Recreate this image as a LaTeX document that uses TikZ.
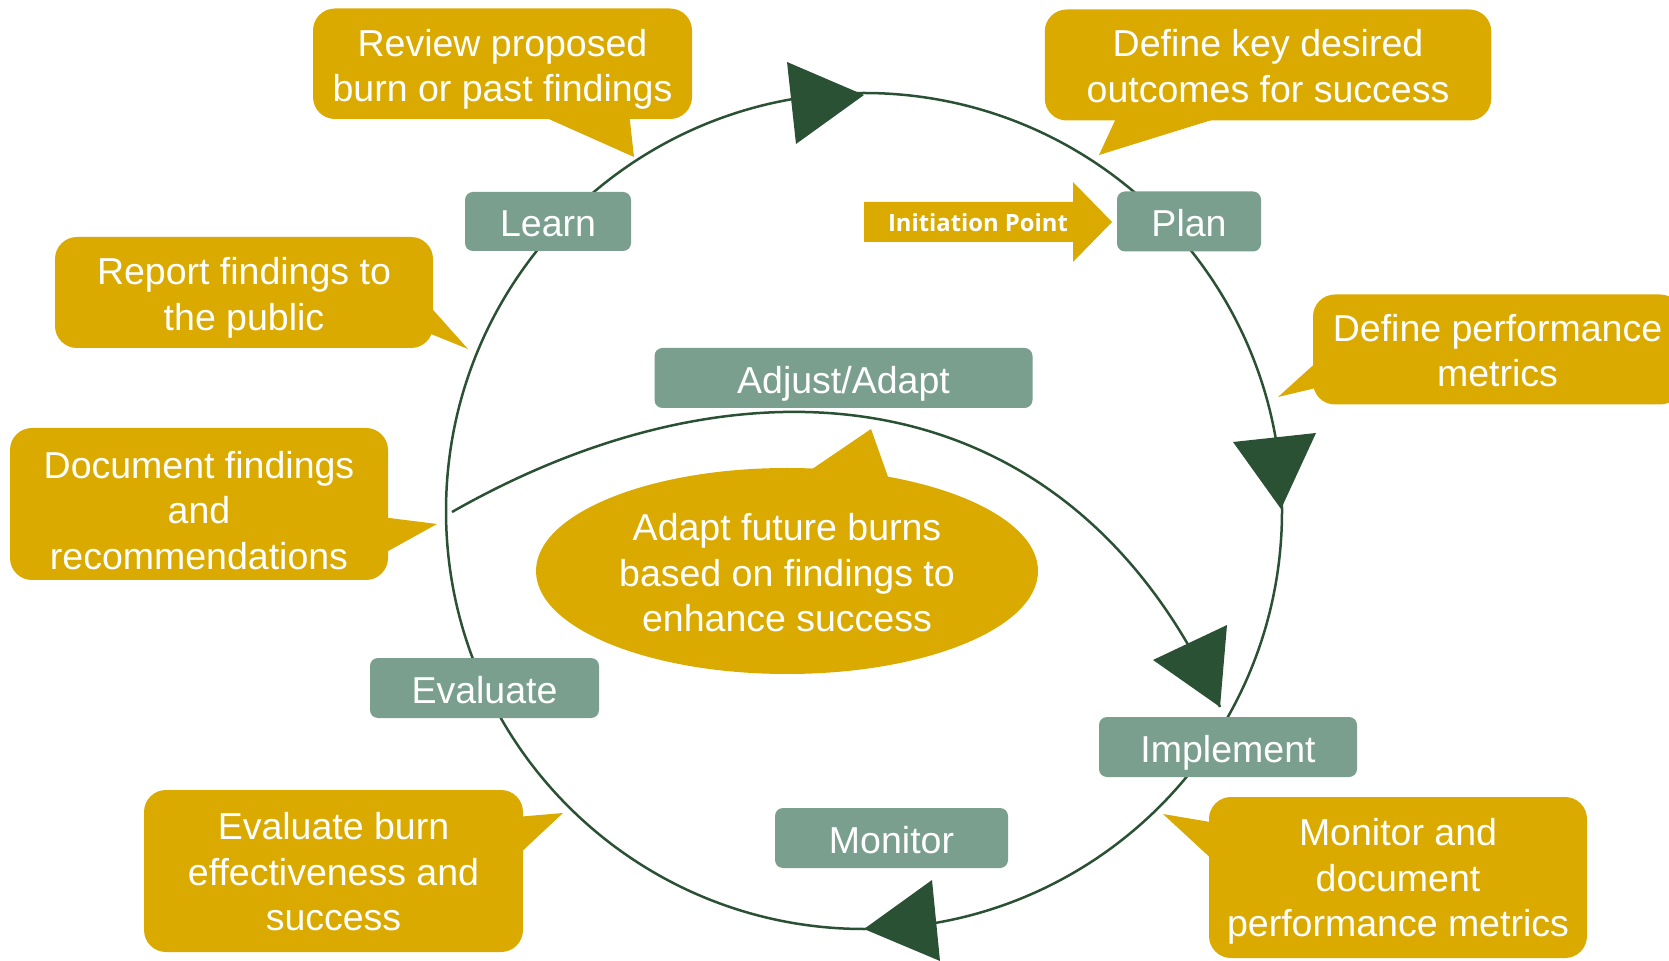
\documentclass[tikz,border=0pt]{standalone}
\usepackage{fontspec}
\setmainfont{Liberation Sans}
\newfontfamily\initfont{Open Sans}
\usetikzlibrary{shapes.geometric}
\definecolor{gold}{RGB}{218,170,0}
\definecolor{boxgreen}{RGB}{122,159,143}
\definecolor{dkgreen}{RGB}{43,81,53}
\tikzset{
  stage/.style={fill=boxgreen, rounded corners=4pt, text=white, inner sep=0pt,
    align=center, text height=15.5pt, text depth=0pt},
  note/.style={fill=gold, rounded corners=11pt, inner sep=0pt},
  notetext/.style={text=white, inner sep=0pt, align=center},
  tail/.style={fill=gold},
  tiphead/.style={fill=dkgreen},
  cycleline/.style={draw=dkgreen, line width=1.25pt},
}
\begin{document}
\begin{tikzpicture}[x=0.5pt, y=-0.5pt, font=\fontsize{18.75}{22.75}\selectfont]
\useasboundingbox (0,0) rectangle (1669,961);

% main cycle
\coordinate (c) at (864,511);
\draw[cycleline] (c) circle[radius=209pt];

% inner adjust curve
\coordinate (adjS) at (452,512);
\coordinate (adjT) at (1220,707);
\draw[cycleline] (adjS) .. controls (745,345) and (1070,372) .. (adjT);

% callout tails
\fill[tail] (533,112) -- (634,157) -- (629,112) -- cycle;
\fill[tail] (1118,114) -- (1099,155) -- (1231,114) -- cycle;
\fill[tail] (426,302) -- (468,349) -- (426,332) -- cycle;
\fill[tail] (381,517) -- (437,524) -- (381,555) -- cycle;
\fill[tail] (1320,359) -- (1278,397) -- (1320,387) -- cycle;
\fill[tail] (799,478) -- (871,429) -- (892,488) -- cycle;
\fill[tail] (516,817) -- (563,813) -- (516,857) -- cycle;
\fill[tail] (1216,823) -- (1163,814) -- (1216,863) -- cycle;

% callouts
\node[note, minimum width=189.5pt, minimum height=55.25pt] (review) at (502.5,63.75) {};
\node[notetext] at ([yshift=-2.7pt]review.center) {Review proposed\\burn or past findings};
\node[note, minimum width=223.25pt, minimum height=55.5pt] (definekey) at (1268,65) {};
\node[notetext] at ([yshift=-0.5pt]definekey.center) {Define key desired\\outcomes for success};
\node[note, minimum width=189pt, minimum height=55.5pt] (report) at (244,292.5) {};
\node[notetext] at ([yshift=-2.7pt]report.center) {Report findings to\\the public};
\node[note, minimum width=189pt, minimum height=76pt] (document) at (199,504) {};
\node[notetext] at ([yshift=-3.2pt]document.center) {Document findings\\and\\recommendations};
\node[note, minimum width=184.5pt, minimum height=55pt] (perf) at (1497.5,349.5) {};
\node[notetext] at ([yshift=-0.5pt]perf.center) {Define performance\\metrics};
\node[note, minimum width=189.5pt, minimum height=81pt] (evalburn) at (333.5,871) {};
\node[notetext] at ([yshift=-0.5pt]evalburn.center) {Evaluate burn\\effectiveness and\\success};
\node[note, minimum width=189pt, minimum height=80.5pt] (monitordoc) at (1398,877.5) {};
\node[notetext] at ([yshift=-2.1pt]monitordoc.center) {Monitor and\\document\\performance metrics};
\node[ellipse, fill=gold, inner sep=0pt,
  minimum width=251pt, minimum height=103pt] (adapt) at (787,571) {};
\node[notetext] at ([yshift=-1pt]adapt.center) {Adapt future burns\\based on findings to\\enhance success};

% initiation arrow
\fill[gold] (864,202) -- (1073,202) -- (1073,182) -- (1112,222) -- (1073,262)
  -- (1073,242) -- (864,242) -- cycle;
\node[text=white, font=\initfont\bfseries\fontsize{11.9}{14}\selectfont] (init) at (978,223)
  {Initiation Point};

% stage boxes
\node[stage, minimum width=83pt, minimum height=29.5pt] (learn) at (548,221.5) {Learn};
\node[stage, minimum width=72pt, minimum height=30pt] (plan) at (1189,221.5) {Plan};
\node[stage, minimum width=189pt, minimum height=30pt] (adjust) at (843.5,378) {Adjust/Adapt};
\node[stage, minimum width=114.5pt, minimum height=30pt] (evaluate) at (484.5,688) {Evaluate};
\node[stage, minimum width=129pt, minimum height=30pt] (implement) at (1228,747) {Implement};
\node[stage, minimum width=116.5pt, minimum height=30pt] (monitor) at (891.5,838) {Monitor};

% arrow heads
\fill[tiphead] (787,62) -- (864,95) -- (796,144) -- cycle;
\fill[tiphead] (1233,442) -- (1316,433) -- (1281,509) -- cycle;
\fill[tiphead] (932,880) -- (940,961) -- (864,929) -- cycle;
\fill[tiphead] (1153,660) -- (1227,625) -- (1220,707) -- cycle;
\end{tikzpicture}
\end{document}
